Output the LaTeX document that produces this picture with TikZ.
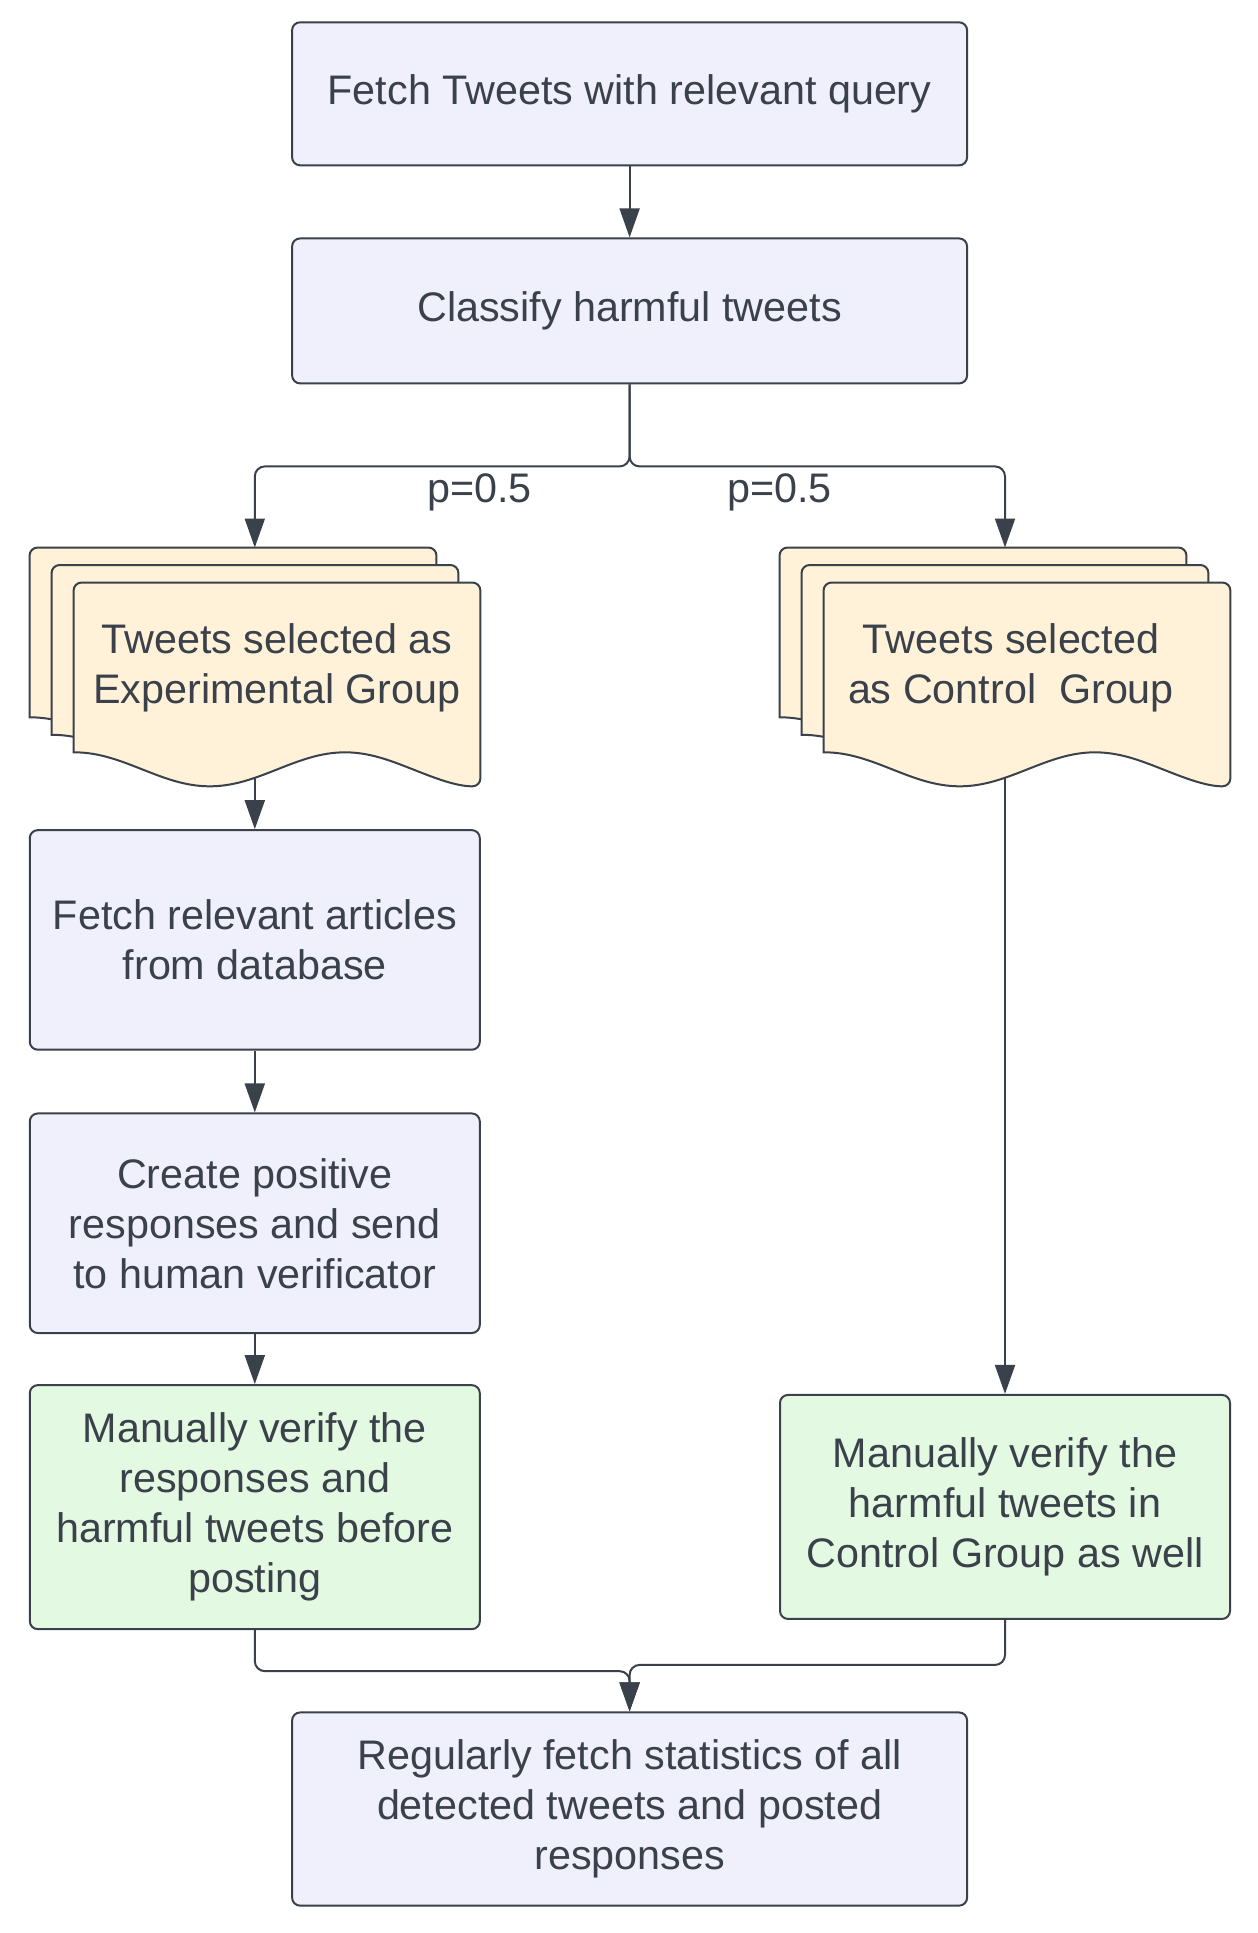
\documentclass[tikz,border=0pt]{standalone}
\usepackage{fontspec}
\setmainfont{Liberation Sans}
\usetikzlibrary{arrows.meta, backgrounds}
\definecolor{linecol}{HTML}{3A414A}
\definecolor{textcol}{HTML}{3A414A}
\definecolor{boxfill}{HTML}{F0F0FC}
\definecolor{docfill}{HTML}{FFF2D8}
\definecolor{greenfill}{HTML}{E3F9E2}
\tikzstyle{box} = [rectangle, draw=linecol, line width=1pt, rounded corners=4pt, fill=boxfill, align=center, text=textcol]
\tikzstyle{sheet} = [rectangle, minimum width=203pt, minimum height=84.5pt, align=center, text=textcol]
\tikzstyle{sheetline} = [draw=linecol, line width=1pt, fill=docfill]
\tikzstyle{arrow} = [draw=linecol, line width=1pt, rounded corners=5pt, -{Triangle[length=14.5pt, width=10pt]}]
\tikzstyle{lbl} = [text=textcol]
\newcommand{\docsheet}[1]{%
  \path[sheetline] (#1.south west) [rounded corners=4pt] -- (#1.north west) -- (#1.north east) -- ([yshift=-17pt]#1.south east) [sharp corners]
    cos ++(-33.83pt,8.5pt) sin ++(-33.83pt,8.5pt) cos ++(-33.83pt,-8.5pt) sin ++(-33.83pt,-8.5pt) cos ++(-33.83pt,8.5pt) sin ++(-33.83pt,8.5pt) -- cycle;}

\begin{document}
\begin{tikzpicture}[every node/.style={font=\fontsize{20.65pt}{25pt}\selectfont}]
	\useasboundingbox (0,0) rectangle (629pt,-966.5pt);
	\node [box, minimum width=337.5pt, minimum height=71.5pt] (fetch) at (314.8pt,-46.9pt) {Fetch Tweets with relevant query};
	\node [box, minimum width=337.5pt, minimum height=72.5pt, below of=fetch, yshift=-80.1pt] (classify) {Classify harmful tweets};
	\node [sheet, below of=classify, xshift=-176.3pt, yshift=-149.8pt] (expgrp) {Tweets selected as\\Experimental Group};
	\node [sheet, below of=classify, xshift=198.7pt, yshift=-149.8pt] (ctrlgrp) {Tweets selected\hspace*{16pt}\\as Control\ \ Group\hspace*{16pt}};
	\node [sheet, xshift=-11pt, yshift=8.75pt] (expmid) at (expgrp) {};
	\node [sheet, xshift=-22pt, yshift=17.5pt] (expback) at (expgrp) {};
	\node [sheet, xshift=-11pt, yshift=8.75pt] (ctrlmid) at (ctrlgrp) {};
	\node [sheet, xshift=-22pt, yshift=17.5pt] (ctrlback) at (ctrlgrp) {};
	\node [box, minimum width=225pt, minimum height=109.8pt, below of=expgrp, xshift=-11.1pt, yshift=-107.8pt] (articles) {Fetch relevant articles\\from database};
	\node [box, minimum width=225pt, minimum height=109.8pt, below of=articles, yshift=-113.2pt] (create) {Create positive\\responses and send\\to human verificator};
	\node [box, minimum width=225pt, minimum height=122pt, below of=create, yshift=-113.5pt, fill=greenfill] (verexp) {Manually verify the\\responses and\\harmful tweets before\\posting};
	\node [box, minimum width=225pt, minimum height=112pt, below of=ctrlgrp, xshift=-11pt, yshift=-391.3pt, fill=greenfill] (verctrl) {Manually verify the\\harmful tweets in\\Control Group as well};
	\node [box, minimum width=337.5pt, minimum height=96.6pt, below of=verexp, xshift=187.4pt, yshift=-122.5pt] (stats) {Regularly fetch statistics of all\\detected tweets and posted\\responses};
	\coordinate (split) at ([yshift=-41pt]classify.south);
	\node [lbl] (pexp) at ([xshift=-75pt, yshift=-13pt]split) {p=0.5};
	\node [lbl] (pctrl) at ([xshift=75pt, yshift=-13pt]split) {p=0.5};

	\draw [arrow] (fetch) -- (classify);
	\draw [arrow] (classify.south) -- (split) -| (expback.north -| articles.north);
	\draw [arrow] (classify.south) -- (split) -| (ctrlback.north -| verctrl.north);
	\draw [arrow] (articles) -- (create);
	\draw [arrow] (create) -- (verexp);
	\draw [arrow] (verexp.south) -- ++(0,-20.5pt) -| (stats.north);
	\draw [arrow] (verctrl.south) -- ++(0,-22.5pt) -| (stats.north);

	\begin{scope}[on background layer]
	\draw [arrow] (expgrp.south -| articles.north) -- (articles.north);
	\draw [arrow] (ctrlgrp.south -| verctrl.north) -- (verctrl.north);
	\docsheet{expback} \docsheet{expmid} \docsheet{expgrp}
	\docsheet{ctrlback} \docsheet{ctrlmid} \docsheet{ctrlgrp}
	\end{scope}
\end{tikzpicture}
\end{document}
